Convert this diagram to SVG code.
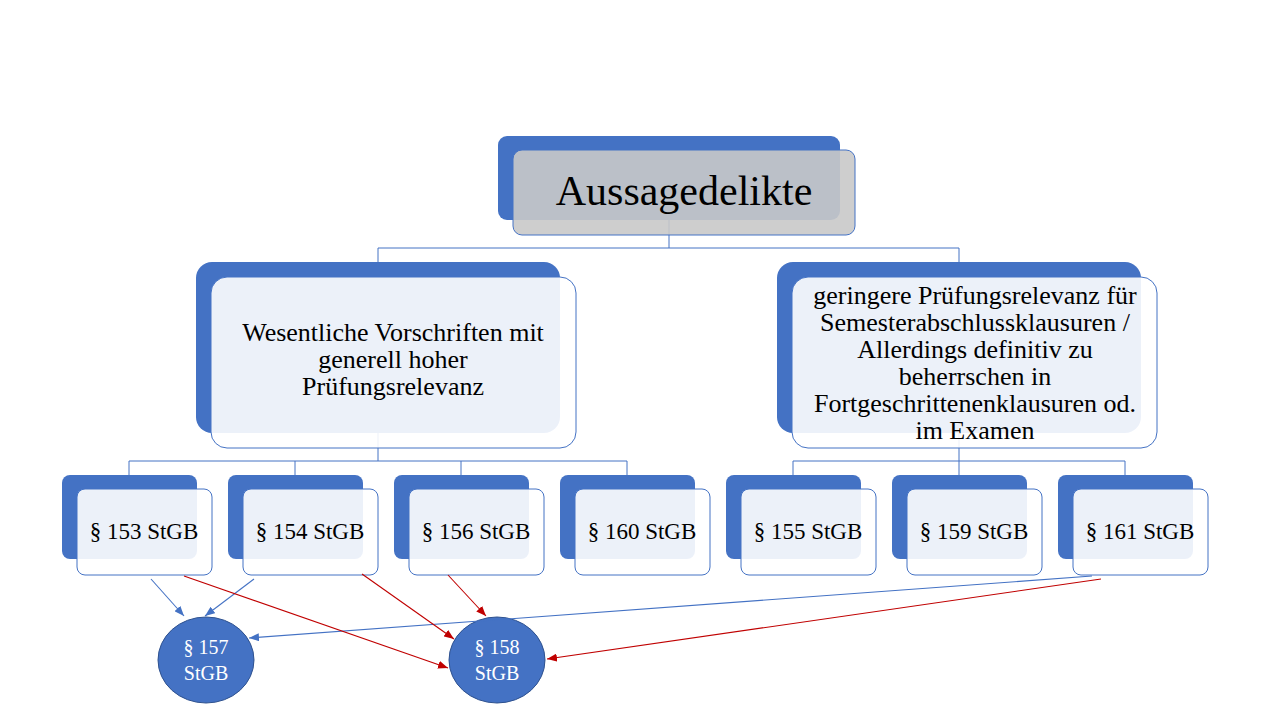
<svg xmlns="http://www.w3.org/2000/svg" width="1280" height="720" viewBox="0 0 1280 720">
<style>
.bg{fill:#ffffff}
.back{fill:#4472C4}
.front{fill:#ffffff;fill-opacity:0.9;stroke:#4472C4;stroke-width:1}
.fronttop{fill:#C9C9C9;fill-opacity:0.9;stroke:#4472C4;stroke-width:1}
.conn{fill:none;stroke:#4472C4;stroke-width:1}
.t{font-family:"Liberation Serif","Times New Roman",serif;fill:#000000;text-anchor:middle}
.circ{fill:#4472C4;stroke:#2F528F;stroke-width:1}
.ct{font-family:"Liberation Serif","Times New Roman",serif;fill:#ffffff;text-anchor:middle;font-size:20px}
.ab{fill:none;stroke:#4472C4;stroke-width:1.1}
.ar{fill:none;stroke:#C00000;stroke-width:1.1}
</style>
<defs>
<marker id="mb" viewBox="0 0 10 8" refX="10" refY="4" markerWidth="10" markerHeight="8" markerUnits="userSpaceOnUse" orient="auto"><path d="M0,0 L10,4 L0,8 Z" fill="#4472C4"/></marker>
<marker id="mr" viewBox="0 0 10 8" refX="10" refY="4" markerWidth="10" markerHeight="8" markerUnits="userSpaceOnUse" orient="auto"><path d="M0,0 L10,4 L0,8 Z" fill="#C00000"/></marker>
</defs>
<rect class="bg" x="0" y="0" width="1280" height="720"/>

<g id="tree-connectors">
<path class="conn" d="M669,220 V248 M378,248 H959 M378,248 V262 M959,248 V262"/>
<path class="conn" d="M378,433 V461 M129,461 H627 M129,461 V475 M295,461 V475 M461,461 V475 M627,461 V475"/>
<path class="conn" d="M959,433 V461 M793,461 H1125 M793,461 V475 M959,461 V475 M1125,461 V475"/>
</g>

<g id="n-aussagedelikte">
<rect class="back" x="498" y="136" width="342" height="84" rx="9"/>
<rect class="fronttop" x="513" y="150" width="342" height="85" rx="9"/>
<text class="t" x="684" y="205" font-size="42">Aussagedelikte</text>
</g>

<g id="n-wesentliche">
<rect class="back" x="196" y="262" width="364" height="171" rx="16"/>
<rect class="front" x="211" y="277" width="365" height="171" rx="16"/>
<text class="t" font-size="26"><tspan x="393" y="341">Wesentliche Vorschriften mit</tspan><tspan x="393" y="368">generell hoher</tspan><tspan x="393" y="395">Prüfungsrelevanz</tspan></text>
</g>

<g id="n-geringere">
<rect class="back" x="777" y="262" width="364" height="171" rx="16"/>
<rect class="front" x="792" y="277" width="365" height="171" rx="16"/>
<text class="t" font-size="26"><tspan x="975" y="304">geringere Prüfungsrelevanz für</tspan><tspan x="975" y="331">Semesterabschlussklausuren /</tspan><tspan x="975" y="358">Allerdings definitiv zu</tspan><tspan x="975" y="385">beherrschen in</tspan><tspan x="975" y="412">Fortgeschrittenenklausuren od.</tspan><tspan x="975" y="439">im Examen</tspan></text>
</g>

<g id="n-153">
<rect class="back" x="62" y="475" width="135" height="84" rx="8"/>
<rect class="front" x="77" y="489" width="135" height="86" rx="8"/>
<text class="t" x="144" y="539" font-size="23">§ 153 StGB</text>
</g>
<g id="n-154">
<rect class="back" x="228" y="475" width="135" height="84" rx="8"/>
<rect class="front" x="243" y="489" width="135" height="86" rx="8"/>
<text class="t" x="310" y="539" font-size="23">§ 154 StGB</text>
</g>
<g id="n-156">
<rect class="back" x="394" y="475" width="135" height="84" rx="8"/>
<rect class="front" x="409" y="489" width="135" height="86" rx="8"/>
<text class="t" x="476" y="539" font-size="23">§ 156 StGB</text>
</g>
<g id="n-160">
<rect class="back" x="560" y="475" width="135" height="84" rx="8"/>
<rect class="front" x="575" y="489" width="135" height="86" rx="8"/>
<text class="t" x="642" y="539" font-size="23">§ 160 StGB</text>
</g>
<g id="n-155">
<rect class="back" x="726" y="475" width="135" height="84" rx="8"/>
<rect class="front" x="741" y="489" width="135" height="86" rx="8"/>
<text class="t" x="808" y="539" font-size="23">§ 155 StGB</text>
</g>
<g id="n-159">
<rect class="back" x="892" y="475" width="135" height="84" rx="8"/>
<rect class="front" x="907" y="489" width="135" height="86" rx="8"/>
<text class="t" x="974" y="539" font-size="23">§ 159 StGB</text>
</g>
<g id="n-161">
<rect class="back" x="1058" y="475" width="135" height="84" rx="8"/>
<rect class="front" x="1073" y="489" width="135" height="86" rx="8"/>
<text class="t" x="1140" y="539" font-size="23">§ 161 StGB</text>
</g>

<g id="n-157">
<ellipse class="circ" cx="206" cy="660" rx="48" ry="43"/>
<text class="ct"><tspan x="206" y="654">§ 157</tspan><tspan x="206" y="680">StGB</tspan></text>
</g>
<g id="n-158">
<ellipse class="circ" cx="497" cy="660" rx="48" ry="43"/>
<text class="ct"><tspan x="497" y="654">§ 158</tspan><tspan x="497" y="680">StGB</tspan></text>
</g>

<g id="arrows">
<line class="ab" x1="151" y1="579" x2="184" y2="616" marker-end="url(#mb)"/>
<line class="ab" x1="254" y1="579" x2="205" y2="616" marker-end="url(#mb)"/>
<line class="ab" x1="1092" y1="576" x2="249" y2="638" marker-end="url(#mb)"/>
<line class="ar" x1="184" y1="576" x2="448" y2="668" marker-end="url(#mr)"/>
<line class="ar" x1="362" y1="574" x2="454" y2="639" marker-end="url(#mr)"/>
<line class="ar" x1="448" y1="575" x2="486" y2="616" marker-end="url(#mr)"/>
<line class="ar" x1="1101" y1="579" x2="547" y2="659" marker-end="url(#mr)"/>
</g>
</svg>
